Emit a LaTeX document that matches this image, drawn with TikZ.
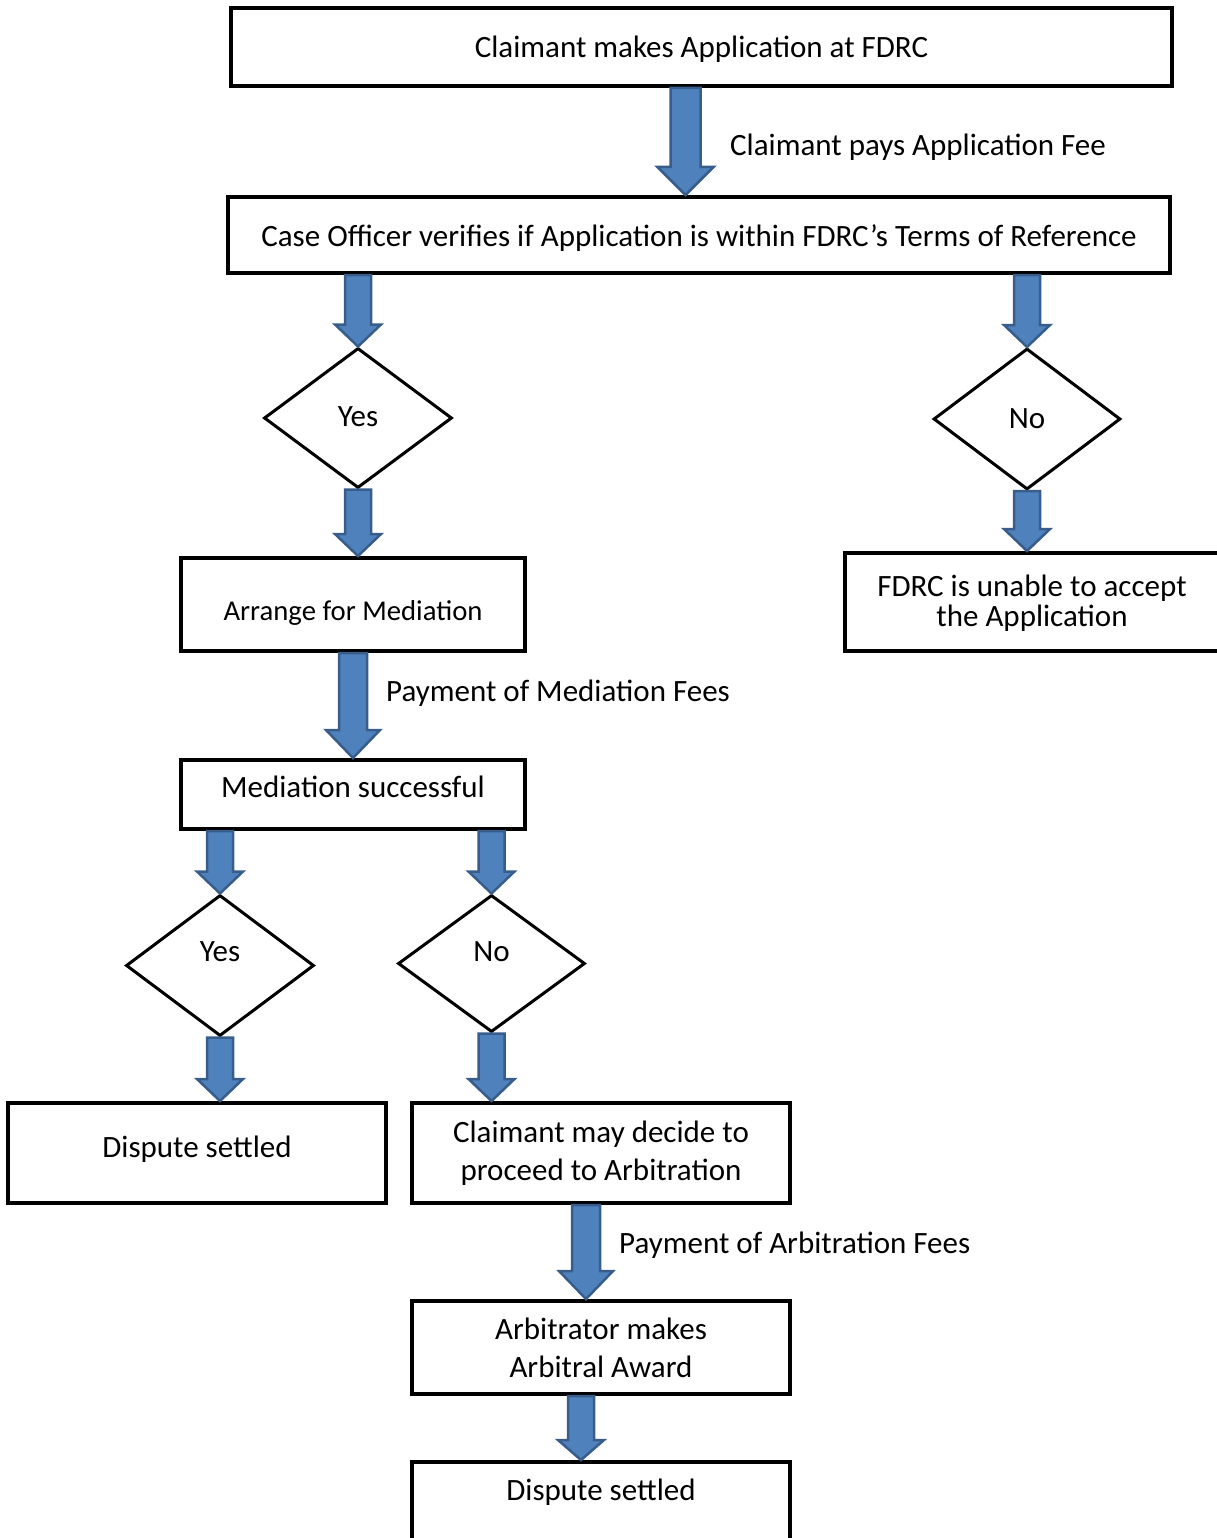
\documentclass[tikz,border=0pt]{standalone}
\usepackage{fontspec}
\setmainfont{Carlito}
\usetikzlibrary{shapes.geometric,calc}
\definecolor{arrfill}{HTML}{4F81BD}
\definecolor{arrline}{HTML}{385D8A}
\newcommand\shifttext[2]{\raisebox{#1}[\height][\depth]{#2}}
% #1 start, #2 end, #3 shaft half width, #4 head half width, #5 head length
\newcommand\blockarrow[5]{%
  \draw[barrow] let \p1=#1, \p2=#2 in
    (\x1-#3,\y1) -- (\x1+#3,\y1) -- (\x1+#3,\y2+#5) -- (\x1+#4,\y2+#5) --
    (\x1,\y2) -- (\x1-#4,\y2+#5) -- (\x1-#3,\y2+#5) -- cycle;}
\begin{document}
\begin{tikzpicture}[x=1pt,y=-1pt,
  every node/.style={font=\fontsize{31}{38}\selectfont},
  box/.style={draw, line width=4pt, rectangle, inner sep=0pt, align=center},
  dia/.style={draw, line width=3pt, diamond, inner sep=0pt},
  lbl/.style={anchor=west, inner sep=0pt},
  barrow/.style={fill=arrfill, draw=arrline, line width=2.5pt, line join=miter}]
\useasboundingbox (0,0) rectangle (1217,1538);
\clip (0,0) rectangle (1217,1538);

\node[box, minimum width=941pt, minimum height=78pt] (b1) at (701.5,47) {\shifttext{-2pt}{Claimant makes Application at FDRC}};
\node[box, minimum width=942pt, minimum height=76pt] (b2) at (699,235) {\shifttext{-3pt}{Case Officer verifies if Application is within FDRC’s Terms of Reference}};
\node[dia, minimum width=188pt, minimum height=140pt] (dy) at (358,418) {\shifttext{1pt}{Yes}};
\node[dia, minimum width=187pt, minimum height=141pt] (dn) at (1027,419) {No};
\node[box, minimum width=344pt, minimum height=93pt, font=\fontsize{28.7}{34}\selectfont] (b3) at (353,604.5) {\shifttext{-8pt}{Arrange for Mediation}};
\node[box, minimum width=374pt, minimum height=98pt, font=\fontsize{31}{28}\selectfont] (b4) at (1032,602) {\shifttext{-3pt}{\begin{tabular}{@{}c@{}}FDRC is unable to accept\\the Application\end{tabular}}};
\node[box, minimum width=344pt, minimum height=69pt] (b5) at (353,794.5) {\shifttext{8pt}{Mediation successful}};
\node[dia, minimum width=188pt, minimum height=141pt] (dy2) at (220,965.5) {\shifttext{14pt}{Yes}};
\node[dia, minimum width=187pt, minimum height=137pt] (dn2) at (491.5,963.5) {\shifttext{12pt}{No}};
\node[box, minimum width=378pt, minimum height=100pt] (b6) at (197,1153) {\shifttext{4pt}{Dispute settled}};
\node[box, minimum width=378pt, minimum height=100pt] (b7) at (601,1153) {Claimant may decide to\\proceed to Arbitration};
\node[box, minimum width=378pt, minimum height=93pt] (b8) at (601,1347.5) {Arbitrator makes\\Arbitral Award};
\node[box, minimum width=378pt, minimum height=100pt] (b9) at (601,1512) {\shifttext{20pt}{Dispute settled}};

\node[lbl] (l1) at (730,147) {Claimant pays Application Fee};
\node[lbl] (l2) at (386,693) {Payment of Mediation Fees};
\node[lbl] (l3) at (619,1245) {Payment of Arbitration Fees};

\blockarrow{([xshift=-16pt]b1.south)}{([xshift=-14pt]b2.north)}{15pt}{28pt}{28pt}
\blockarrow{(dy.north |- b2.south)}{(dy.north)}{13pt}{23pt}{22pt}
\blockarrow{(dn.north |- b2.south)}{(dn.north)}{13pt}{23pt}{22pt}
\blockarrow{(dy.south)}{(dy.south |- b3.north)}{13pt}{23pt}{22pt}
\blockarrow{(dn.south)}{(dn.south |- b4.north)}{13pt}{23pt}{22pt}
\blockarrow{(b3.south)}{(b5.north)}{14pt}{27pt}{28pt}
\blockarrow{(dy2.north |- b5.south)}{(dy2.north)}{13pt}{23pt}{22pt}
\blockarrow{(dn2.north |- b5.south)}{(dn2.north)}{13pt}{23pt}{22pt}
\blockarrow{(dy2.south)}{(dy2.south |- b6.north)}{13pt}{23pt}{22pt}
\blockarrow{(dn2.south)}{(dn2.south |- b7.north)}{13pt}{23pt}{22pt}
\blockarrow{([xshift=-15pt]b7.south)}{([xshift=-15pt]b8.north)}{14pt}{27pt}{28pt}
\blockarrow{([xshift=-20pt]b8.south)}{([xshift=-20pt]b9.north)}{13pt}{23pt}{20pt}
\end{tikzpicture}
\end{document}
